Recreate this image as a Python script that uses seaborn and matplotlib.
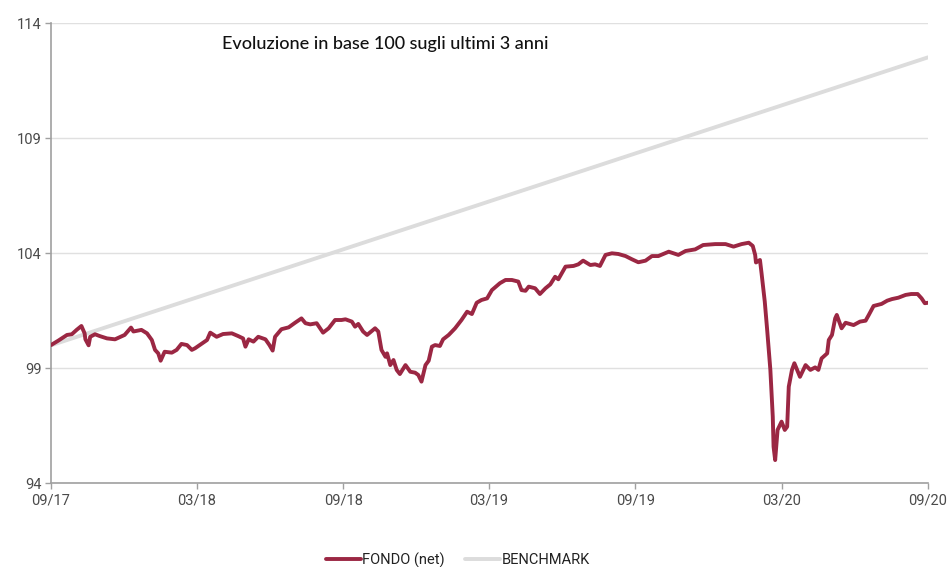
import pandas as pd
import numpy as np
import matplotlib
matplotlib.use("Agg")
import matplotlib.pyplot as plt
import matplotlib.dates as mdates
import seaborn as sns

# ---- data ----
start_date = "2017-09-30"
fund_days = [0, 9, 20, 26, 32, 38, 42, 43, 47, 49, 55, 61, 70, 80, 92, 100, 103, 113, 120, 126,
             130, 134, 137, 142, 151, 157, 163, 170, 176, 180,
             188, 195, 199, 207, 215, 226, 234, 240, 243, 247, 253, 259, 268, 273, 277, 280,
             288, 297, 305, 313, 318, 324, 332, 340, 347, 355, 363,
             368, 376, 380, 384, 390, 395, 405, 409, 413, 418, 420, 424, 428, 432, 436, 443,
             449, 455, 459, 463, 468, 472, 476, 480, 486, 490, 497, 505, 513, 520, 526, 532,
             538, 545, 551, 555,
             561, 568, 576, 584, 588, 593, 597, 605, 611, 618, 624, 630, 634, 643, 653, 659,
             665, 674, 680, 686, 693, 701, 709, 718, 726, 734, 743,
             751, 759, 772, 784, 793, 805, 815, 830, 843, 853, 863, 872, 877, 880, 881, 886,
             888, 892, 895, 899, 902, 903, 905, 908, 913, 917, 920, 922, 926, 929,
             936, 943, 949, 955, 959, 963, 970, 972, 976, 980, 982, 988, 993, 1003, 1011,
             1018, 1022, 1028, 1038, 1045, 1051, 1059, 1068, 1075, 1083, 1088, 1092, 1096]
fund_values = [100.01, 100.2, 100.45, 100.48, 100.67, 100.84, 100.52, 100.26, 100.0, 100.37,
               100.48, 100.4, 100.3, 100.26, 100.45, 100.77, 100.6, 100.67, 100.52, 100.23,
               99.8, 99.65, 99.33, 99.72, 99.68, 99.8, 100.06, 100.01, 99.8, 99.87,
               100.06, 100.23, 100.55, 100.37, 100.49, 100.52, 100.4, 100.3, 99.94, 100.26,
               100.16, 100.37, 100.26, 100.01, 99.77, 100.37,
               100.7, 100.78, 100.98, 101.17, 100.96, 100.91, 100.96, 100.55, 100.74, 101.1, 101.1,
               101.13, 101.03, 100.81, 100.93, 100.6, 100.45, 100.74, 100.6, 99.8, 99.5, 99.65,
               99.14, 99.36, 98.93, 98.75, 99.14,
               98.85, 98.81, 98.71, 98.42, 99.14, 99.33, 99.94, 100.01, 99.97, 100.26, 100.45,
               100.74, 101.1, 101.46, 101.36, 101.85,
               101.97, 102.04, 102.4, 102.52,
               102.7, 102.84, 102.84, 102.77, 102.4, 102.37, 102.55, 102.48, 102.23, 102.48,
               102.65, 102.98, 102.87, 103.42, 103.45, 103.52,
               103.68, 103.49, 103.52, 103.45, 103.93, 104.0, 103.97, 103.88, 103.74, 103.61, 103.68,
               103.88, 103.88, 104.07, 103.93, 104.1, 104.17, 104.36, 104.4, 104.4, 104.29,
               104.4, 104.46, 104.32, 103.93, 103.6, 103.71,
               103.13, 101.9, 100.67, 98.93, 96.9, 95.59, 95.01, 96.32, 96.68, 96.32, 96.46,
               98.2, 98.93, 99.22,
               98.63, 99.14, 98.93, 99.04, 98.93, 99.43, 99.65, 100.23, 100.45, 101.17, 101.32,
               100.74, 100.98, 100.88, 101.03,
               101.07, 101.32, 101.71, 101.8, 101.94, 102.01, 102.07, 102.19, 102.23, 102.23,
               102.04, 101.83, 101.85]
bench_dates = ["2017-09-30", "2020-09-30"]
bench_values = [100.0, 112.52]
tick_dates = ["2017-09-30", "2018-03-31", "2018-09-30", "2019-03-31",
              "2019-09-30", "2020-03-31", "2020-09-30"]
y_ticks = [94, 99, 104, 109, 114]
title_text = "Evoluzione in base 100 sugli ultimi 3 anni"
series_names = ["FONDO (net)", "BENCHMARK"]

# ---- build frames ----
fund_df = pd.DataFrame({
    "date": pd.Timestamp(start_date) + pd.to_timedelta(fund_days, unit="D"),
    "value": fund_values,
})
bench_df = pd.DataFrame({"date": pd.to_datetime(bench_dates), "value": bench_values})

sns.set_theme(style="white")
plt.rcParams["font.family"] = ["Roboto", "DejaVu Sans"]

fig = plt.figure(figsize=(9.5, 5.67), dpi=100)
ax = fig.add_axes([51 / 950, 1 - 483.3 / 567, 877 / 950, 460 / 567])

fund_col = "#9B2743"
bench_col = "#DCDCDC"

sns.lineplot(data=bench_df, x="date", y="value", ax=ax, color=bench_col, lw=2.8,
             label=series_names[1], zorder=2)
sns.lineplot(data=fund_df, x="date", y="value", ax=ax, color=fund_col, lw=2.8,
             label=series_names[0], zorder=3)

ax.set_ylim(94, 114)
ax.set_yticks(y_ticks)
ax.set_xlim(pd.Timestamp(tick_dates[0]), pd.Timestamp(tick_dates[-1]))
ax.set_xticks(pd.to_datetime(tick_dates))
ax.xaxis.set_major_formatter(mdates.DateFormatter("%m/%y"))
ax.set_xlabel("")
ax.set_ylabel("")

ax.grid(axis="y", color="#E0E0E0", lw=1.0)
ax.grid(axis="x", visible=False)
for s in ["top", "right"]:
    ax.spines[s].set_visible(False)
for s in ["left", "bottom"]:
    ax.spines[s].set_color("#A0A0A0")
    ax.spines[s].set_linewidth(1.2)
ax.tick_params(axis="both", which="major", length=4, width=1, color="#A0A0A0",
               labelsize=10.5, labelcolor="#4A4A4A", pad=3)
ax.tick_params(axis="y", left=True)
ax.tick_params(axis="x", bottom=True)

ax.text(0.381, 0.955, title_text, transform=ax.transAxes, ha="center", va="center",
        fontsize=13, color="#111111", family=["Lato", "DejaVu Sans"], fontweight="medium")

ax.get_legend().remove()
handles, labels = ax.get_legend_handles_labels()
order = [labels.index(series_names[0]), labels.index(series_names[1])]
leg = fig.legend([handles[i] for i in order], [labels[i] for i in order],
                 loc="center", bbox_to_anchor=(458 / 950, 1 - 560 / 567), ncol=2,
                 frameon=False, fontsize=10.5, handlelength=2.4, handletextpad=0.1,
                 columnspacing=1.4)
for t in leg.get_texts():
    t.set_color("#222222")

fig.savefig("out.png", dpi=100)
